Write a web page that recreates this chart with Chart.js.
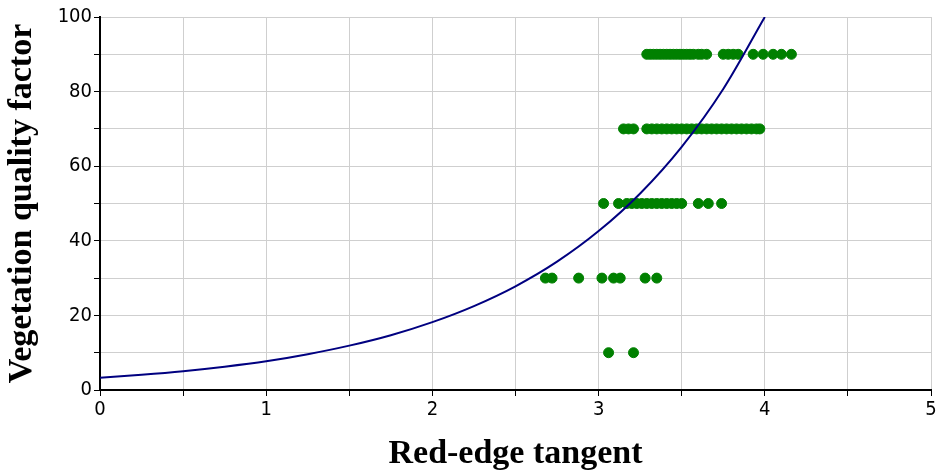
<!DOCTYPE html>
<html>
<head>
<meta charset="utf-8">
<script src="https://cdn.jsdelivr.net/npm/chart.js@4.4.0/dist/chart.umd.min.js"></script>
<style>
  html, body { margin: 0; padding: 0; background: #fff; }
  #wrap { width: 940px; height: 470px; }
</style>
</head>
<body>
<div id="wrap"><canvas id="vqfChart"></canvas></div>
<script>
// observed points, grouped by quality class
const ptsX90 = [3.29, 3.31, 3.33, 3.35, 3.37, 3.39, 3.41, 3.43, 3.45, 3.47, 3.49, 3.51, 3.53, 3.55, 3.57, 3.60, 3.62, 3.65,
                3.75, 3.78, 3.81, 3.84, 3.93, 3.99, 4.05, 4.10, 4.16];
const ptsX70 = [3.15, 3.18, 3.21, 3.29, 3.32, 3.35, 3.38, 3.41, 3.44, 3.47, 3.50, 3.53, 3.56, 3.59, 3.62, 3.65, 3.68,
                3.71, 3.74, 3.77, 3.80, 3.83, 3.86, 3.89, 3.92, 3.95, 3.97];
const ptsX50 = [3.03, 3.12, 3.17, 3.20, 3.23, 3.26, 3.29, 3.32, 3.35, 3.38, 3.41, 3.44, 3.47, 3.50, 3.60, 3.66, 3.74];
const ptsX30 = [2.68, 2.72, 2.88, 3.02, 3.09, 3.13, 3.28, 3.35];
const ptsX10 = [3.06, 3.21];

// fitted curve
const curveX = [0, 0.25, 0.5, 0.75, 1.0, 1.25, 1.5, 1.75, 2.0, 2.25, 2.5, 2.75, 3.0, 3.25, 3.5, 3.75, 4.0];
const curveY = [3.3, 4.1, 5.05, 6.25, 7.7, 9.6, 11.9, 14.7, 18.2, 22.5, 27.8, 34.4, 42.6, 52.7, 65.2, 80.7, 100];

const scatterPts = [];
[[ptsX90, 90], [ptsX70, 70], [ptsX50, 50], [ptsX30, 30], [ptsX10, 10]].forEach(function (row) {
    row[0].forEach(function (x) { scatterPts.push({ x: x, y: row[1] }); });
});
const curvePts = curveX.map(function (x, i) { return { x: x, y: curveY[i] }; });

const tickFont = { family: "'Liberation Sans Narrow', 'DejaVu Sans Condensed', sans-serif", size: 20 };
const titleFont = { family: "'Liberation Serif', serif", size: 34, weight: 'bold' };

new Chart(document.getElementById('vqfChart').getContext('2d'), {
    type: 'scatter',
    data: {
        datasets: [{
            data: scatterPts,
            backgroundColor: '#008000',
            borderColor: '#008000',
            pointRadius: 5,
            pointHoverRadius: 5,
            order: 2
        }, {
            type: 'line',
            data: curvePts,
            borderColor: '#000080',
            borderWidth: 2,
            pointRadius: 0,
            fill: false,
            cubicInterpolationMode: 'monotone',
            order: 1
        }]
    },
    options: {
        responsive: true,
        maintainAspectRatio: false,
        animation: false,
        layout: { padding: { top: 17, right: 9 } },
        plugins: { legend: { display: false }, tooltip: { enabled: false } },
        scales: {
            x: {
                type: 'linear',
                min: 0,
                max: 5,
                ticks: {
                    stepSize: 0.5,
                    color: '#000',
                    font: tickFont,
                    maxRotation: 0,
                    padding: 2,
                    callback: function (v) { return Number.isInteger(v) ? v : ''; }
                },
                grid: { color: '#cfcfcf', tickColor: '#000', tickLength: 6, lineWidth: 1 },
                border: { color: '#000', width: 2 },
                title: {
                    display: true, text: 'Red-edge tangent', color: '#000',
                    font: Object.assign({}, titleFont, { lineHeight: 0.9 }),
                    padding: { top: 12, bottom: 0 }
                },
                afterFit: function (s) { s.height = 80; }
            },
            y: {
                min: 0,
                max: 100,
                ticks: {
                    stepSize: 10,
                    color: '#000',
                    font: tickFont,
                    padding: 2,
                    callback: function (v) { return v % 20 === 0 ? v : ''; }
                },
                grid: { color: '#cfcfcf', tickColor: '#000', tickLength: 6, lineWidth: 1 },
                border: { color: '#000', width: 2 },
                title: { display: true, text: 'Vegetation quality factor', color: '#000', font: titleFont, padding: { top: 2, bottom: 0 } },
                afterFit: function (s) { s.width = 100; }
            }
        }
    }
});
</script>
</body>
</html>
